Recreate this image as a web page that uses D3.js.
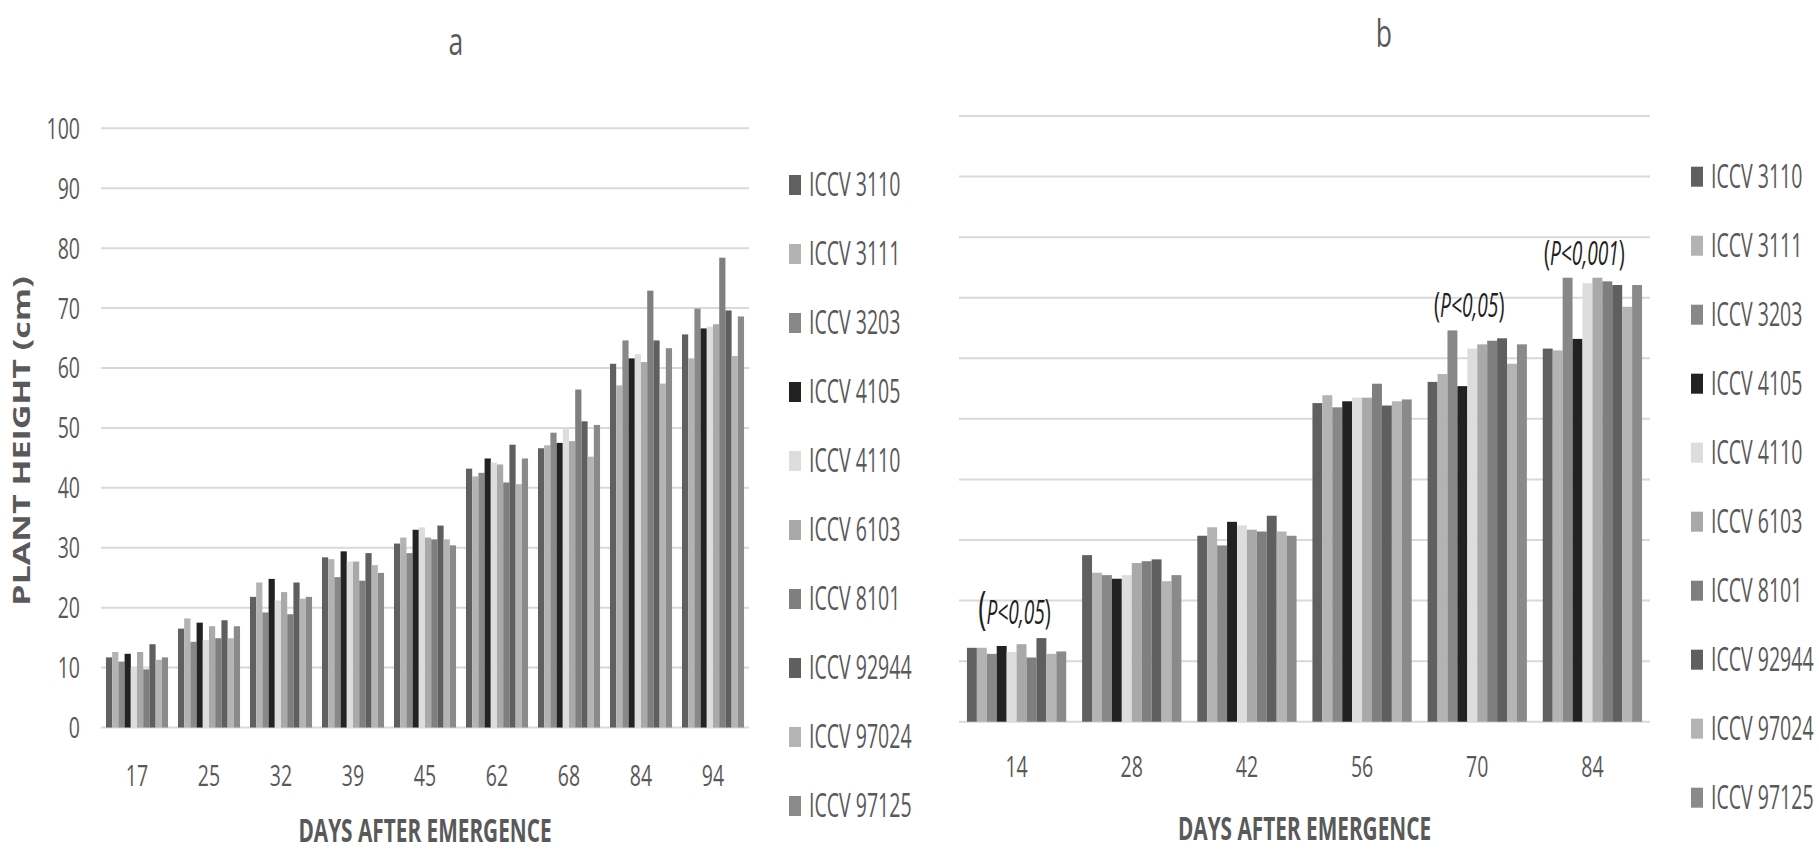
<!DOCTYPE html>
<html>
<head>
<meta charset="utf-8">
<script src="https://cdn.jsdelivr.net/npm/d3@7"></script>
<style>
  html, body { margin: 0; padding: 0; background: #ffffff; }
  svg { display: block; }
  text { font-family: "Open Sans", "Liberation Sans", sans-serif; fill: #595959; }
</style>
</head>
<body>
<svg id="chart" width="1819" height="853"></svg>
<script>
// Chickpea varieties and their bar fills
const varieties = ["ICCV 3110", "ICCV 3111", "ICCV 3203", "ICCV 4105", "ICCV 4110",
                   "ICCV 6103", "ICCV 8101", "ICCV 92944", "ICCV 97024", "ICCV 97125"];
const fills = ["#606060", "#b3b3b3", "#888888", "#222222", "#dddddd",
               "#a9a9a9", "#7f7f7f", "#5f5f5f", "#b4b4b4", "#8a8a8a"];

// Panel a: days after emergence and plant height (cm), one row per day
const daysA = ["17", "25", "32", "39", "45", "62", "68", "84", "94"];
const heightA = [
  [11.7, 12.6, 11.0, 12.3, 10.1, 12.6,  9.7, 13.9, 11.3, 11.7], // 17
  [16.5, 18.2, 14.3, 17.5, 14.6, 16.9, 14.9, 17.9, 14.9, 16.9], // 25
  [21.8, 24.2, 19.2, 24.8, 21.2, 22.6, 18.9, 24.2, 21.5, 21.8], // 32
  [28.4, 28.1, 25.1, 29.4, 27.7, 27.7, 24.5, 29.1, 27.1, 25.8], // 39
  [30.7, 31.7, 29.1, 33.0, 33.4, 31.7, 31.4, 33.7, 31.4, 30.4], // 45
  [43.2, 41.9, 42.5, 44.9, 44.2, 43.9, 40.9, 47.2, 40.6, 44.9], // 62
  [46.6, 47.1, 49.2, 47.5, 49.8, 47.8, 56.4, 51.1, 45.2, 50.5], // 68
  [60.7, 57.1, 64.6, 61.6, 62.3, 61.0, 72.9, 64.6, 57.4, 63.3], // 84
  [65.6, 61.6, 69.9, 66.6, 66.9, 67.3, 78.4, 69.6, 62.0, 68.6]  // 94
];
const ticksA = [0, 10, 20, 30, 40, 50, 60, 70, 80, 90, 100];

// Panel b: days after emergence and plant height, one row per day
const daysB = ["14", "28", "42", "56", "70", "84"];
const heightB = [
  [12.2, 12.2, 11.2, 12.5, 11.5, 12.8, 10.6, 13.8, 11.2, 11.6], // 14
  [27.5, 24.6, 24.2, 23.6, 24.2, 26.2, 26.5, 26.8, 23.2, 24.2], // 28
  [30.7, 32.1, 29.1, 33.0, 32.4, 31.7, 31.4, 34.0, 31.4, 30.7], // 42
  [52.6, 53.9, 51.9, 52.9, 53.5, 53.5, 55.8, 52.2, 52.9, 53.2], // 56
  [56.1, 57.4, 64.6, 55.4, 61.6, 62.3, 62.9, 63.3, 59.1, 62.3], // 70
  [61.6, 61.3, 73.3, 63.2, 72.4, 73.3, 72.7, 72.1, 68.5, 72.1]  // 84
];
const ticksB = [0, 10, 20, 30, 40, 50, 60, 70, 80, 90, 100];
const notesDay = ["14", "70", "84"];
const notesText = ["P<0,05", "P<0,05", "P<0,001"];

const svg = d3.select("#chart");
const SX = 0.65;   // narrow lettering

function label(g, x, y, str, size, opt = {}) {
  const t = g.append("text")
    .attr("transform", `translate(${x},${y}) scale(${opt.sx || SX},1)` + (opt.rotate ? ` rotate(${opt.rotate})` : ""))
    .attr("text-anchor", opt.anchor || "middle")
    .attr("dy", opt.dy || "0.35em")
    .style("font-size", size + "px")
    .text(str);
  if (opt.weight) t.style("font-weight", opt.weight);
  if (opt.style) t.style("font-style", opt.style);
  if (opt.fill) t.style("fill", opt.fill);
  return t;
}

function panel(cfg) {
  const g = svg.append("g");
  const x0 = d3.scaleBand().domain(cfg.days).range([cfg.left, cfg.right])
    .paddingInner(0.138).paddingOuter(0.069);
  const x1 = d3.scaleBand().domain(d3.range(varieties.length)).range([0, x0.bandwidth()]);
  const y = d3.scaleLinear().domain([0, 100]).range([cfg.bottom, cfg.top]);

  // horizontal gridlines
  g.append("g").selectAll("line").data(cfg.ticks).join("line")
    .attr("x1", cfg.left).attr("x2", cfg.right)
    .attr("y1", d => y(d)).attr("y2", d => y(d))
    .attr("stroke", "#d9d9d9").attr("stroke-width", 2);

  // value axis labels
  if (cfg.showTicks) {
    cfg.ticks.forEach(t => label(g, cfg.left - 21, y(t), String(t), 30, { anchor: "end" }));
  }

  // bars
  const groups = g.append("g").selectAll("g").data(cfg.values).join("g")
    .attr("transform", (d, i) => `translate(${x0(cfg.days[i])},0)`);
  groups.selectAll("rect").data(d => d).join("rect")
    .attr("x", (d, i) => x1(i))
    .attr("width", x1.bandwidth())
    .attr("y", d => y(d))
    .attr("height", d => y(0) - y(d))
    .attr("fill", (d, i) => fills[i]);

  // category labels
  cfg.days.forEach(d => label(g, x0(d) + x0.bandwidth() / 2, cfg.bottom + cfg.catGap, d, 30));

  // axis title
  label(g, (cfg.left + cfg.right) / 2, cfg.titleY, "DAYS AFTER EMERGENCE", 32, { weight: "bold", sx: 0.65 });

  // legend
  varieties.forEach((v, i) => {
    const cy = cfg.legendTop + i * 69;
    g.append("rect").attr("x", cfg.legendX).attr("y", cy - 10)
      .attr("width", 12).attr("height", 20).attr("fill", fills[i]);
    label(g, cfg.legendX + 20, cy, v, 32, { anchor: "start", sx: 0.61 });
  });

  return { g, x0, y };
}

// Panel a
const pa = panel({
  days: daysA, values: heightA, ticks: ticksA, showTicks: true,
  left: 101, right: 749, top: 128.3, bottom: 727.5,
  catGap: 48, titleY: 831, legendX: 789, legendTop: 185
});
label(pa.g, 456, 42, "a", 38, { sx: 0.7 });
label(pa.g, 22, 441, "PLANT HEIGHT (cm)", 34, { weight: "bold", rotate: -90, sx: 0.7 });

// Panel b
const pb = panel({
  days: daysB, values: heightB, ticks: ticksB, showTicks: false,
  left: 959, right: 1650, top: 116, bottom: 721.7,
  catGap: 45, titleY: 829, legendX: 1691, legendTop: 176.7
});
label(pb.g, 1384, 34, "b", 38, { sx: 0.7 });

// significance notes above the tallest bar of a day
notesDay.forEach((d, k) => {
  const i = daysB.indexOf(d);
  const top = d3.max(heightB[i]);
  const cx = pb.x0(d) + pb.x0.bandwidth() / 2 - (k === 0 ? 2 : 8);
  const t = pb.g.append("text")
    .attr("transform", `translate(${cx},${pb.y(top) - (k === 0 ? 14 : 13)}) scale(0.6,1)`)
    .attr("text-anchor", "middle")
    .style("font-size", "32px").style("font-style", "italic").style("fill", "#1e1e1e");
  t.append("tspan").style("font-size", k === 0 ? "46px" : "34px").style("font-style", "normal").text("(");
  t.append("tspan").text(notesText[k]);
  t.append("tspan").style("font-size", "34px").style("font-style", "normal").text(")");
});
</script>
</body>
</html>
